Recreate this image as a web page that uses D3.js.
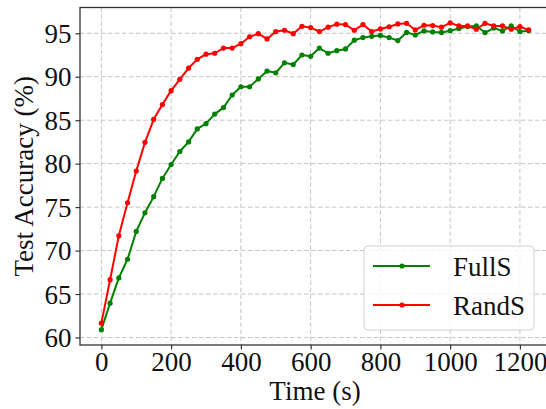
<!DOCTYPE html>
<html>
<head>
<meta charset="utf-8">
<script src="https://cdn.jsdelivr.net/npm/d3@7"></script>
<style>
  html, body { margin: 0; padding: 0; background: #fff; }
  svg { display: block; }
  text { font-family: "Liberation Serif", "Times New Roman", serif; fill: #111; }
</style>
</head>
<body>
<svg id="chart" width="546" height="409"></svg>
<script>
// Training time (s) for each evaluation point
const timeSec = d3.range(50).map(i => i * 25);

// Test accuracy (%) of each sampling strategy
const fullS = [60.9, 63.95, 66.85, 69.0, 72.2, 74.35, 76.2, 78.3, 79.9, 81.4,
  82.5, 84.0, 84.6, 85.7, 86.45, 87.9, 88.85, 88.85, 89.75, 90.65,
  90.45, 91.6, 91.4, 92.5, 92.35, 93.3, 92.7, 93.0, 93.2, 94.2,
  94.5, 94.65, 94.75, 94.5, 94.16, 95.1, 94.8, 95.27, 95.15, 95.1,
  95.3, 95.54, 95.77, 95.84, 95.08, 95.6, 95.27, 95.84, 95.19, 95.3];
const randS = [61.65, 66.65, 71.7, 75.5, 79.15, 82.45, 85.1, 86.8, 88.4, 89.7,
  91.0, 92.0, 92.6, 92.7, 93.3, 93.3, 93.8, 94.6, 94.95, 94.35,
  95.2, 95.35, 94.95, 95.8, 95.65, 95.2, 95.7, 96.05, 96.0, 95.35,
  96.0, 95.2, 95.5, 95.75, 96.07, 96.15, 95.38, 95.92, 95.88, 95.7,
  96.2, 95.84, 95.84, 95.46, 96.15, 95.84, 95.84, 95.46, 95.77, 95.38];

const seriesNames = ["FullS", "RandS"];
const seriesColors = ["#008000", "#ff0000"];
const xTicks = [0, 200, 400, 600, 800, 1000, 1200];
const yTicks = [60, 65, 70, 75, 80, 85, 90, 95];

const series = [
  { name: seriesNames[0], color: seriesColors[0], values: fullS },
  { name: seriesNames[1], color: seriesColors[1], values: randS }
];

const svg = d3.select("#chart");
const plot = { left: 80, top: 7.5, right: 550, bottom: 345 };

// Axis limits padded by 5% of the data span on each side
function padded(lo, hi) { const p = (hi - lo) * 0.05; return [lo - p, hi + p]; }
const xExt = d3.extent(timeSec);
const allY = fullS.concat(randS);
const yExt = d3.extent(allY);

const x = d3.scaleLinear().domain(padded(xExt[0], xExt[1])).range([plot.left, plot.right]);
const y = d3.scaleLinear().domain(padded(yExt[0], yExt[1])).range([plot.bottom, plot.top]);

svg.append("defs").append("clipPath").attr("id", "plot-clip")
  .append("rect")
  .attr("x", plot.left).attr("y", plot.top)
  .attr("width", plot.right - plot.left).attr("height", plot.bottom - plot.top);

// Dashed grid
const grid = svg.append("g").attr("stroke", "#c4c4c4").attr("stroke-width", 1)
  .attr("stroke-dasharray", "4.5,2.5");
grid.selectAll("line.gx").data(xTicks).join("line")
  .attr("x1", d => x(d)).attr("x2", d => x(d))
  .attr("y1", plot.top).attr("y2", plot.bottom);
grid.selectAll("line.gy").data(yTicks).join("line")
  .attr("x1", plot.left).attr("x2", plot.right)
  .attr("y1", d => y(d)).attr("y2", d => y(d));

// Series lines with circle markers
const line = d3.line().x((d, i) => x(timeSec[i])).y(d => y(d));
const marks = svg.append("g").attr("clip-path", "url(#plot-clip)");
series.forEach(s => {
  const g = marks.append("g");
  g.append("path").datum(s.values)
    .attr("d", line).attr("fill", "none")
    .attr("stroke", s.color).attr("stroke-width", 2).attr("stroke-linejoin", "round");
  g.selectAll("circle").data(s.values).join("circle")
    .attr("cx", (d, i) => x(timeSec[i])).attr("cy", d => y(d))
    .attr("r", 2.6).attr("fill", s.color);
});

// Axes
const xAxis = d3.axisBottom(x).tickValues(xTicks).tickSize(4.5).tickPadding(4).tickFormat(d3.format("d"));
const yAxis = d3.axisLeft(y).tickValues(yTicks).tickSize(4.5).tickPadding(4).tickFormat(d3.format("d"));

const gx = svg.append("g").attr("transform", `translate(0,${plot.bottom})`).call(xAxis);
const gy = svg.append("g").attr("transform", `translate(${plot.left},0)`).call(yAxis);
[gx, gy].forEach(g => {
  g.select(".domain").remove();
  g.selectAll(".tick line").attr("stroke", "#333").attr("stroke-width", 1.2);
  g.selectAll(".tick text").attr("font-size", 27).attr("fill", "#111")
    .style("font-family", "'Liberation Serif', serif");
});
gx.selectAll(".tick text").attr("dy", "0.64em");
gy.selectAll(".tick text").attr("dy", "0.34em");

// Frame (right edge lies beyond the canvas)
svg.append("rect")
  .attr("x", plot.left).attr("y", plot.top)
  .attr("width", plot.right - plot.left).attr("height", plot.bottom - plot.top)
  .attr("fill", "none").attr("stroke", "#333").attr("stroke-width", 1.3);

// Axis titles
svg.append("text")
  .attr("x", (plot.left + plot.right) / 2).attr("y", 400)
  .attr("text-anchor", "middle").attr("font-size", 27)
  .text("Time (s)");
svg.append("text")
  .attr("transform", `translate(33,${(plot.top + plot.bottom) / 2}) rotate(-90)`)
  .attr("text-anchor", "middle").attr("font-size", 27)
  .text("Test Accuracy (%)");

// Legend
const legend = svg.append("g").attr("transform", "translate(364,246)");
legend.append("rect")
  .attr("width", 170).attr("height", 84).attr("rx", 4).attr("ry", 4)
  .attr("fill", "#fff").attr("fill-opacity", 0.8)
  .attr("stroke", "#d0d0d0").attr("stroke-width", 1);
series.forEach((s, i) => {
  const row = legend.append("g").attr("transform", `translate(0,${20 + i * 39})`);
  row.append("line").attr("x1", 9).attr("x2", 66).attr("y1", 0).attr("y2", 0)
    .attr("stroke", s.color).attr("stroke-width", 2);
  row.append("circle").attr("cx", 38).attr("cy", 0).attr("r", 2.6).attr("fill", s.color);
  row.append("text").attr("x", 89).attr("y", 9.5).attr("font-size", 27).text(s.name);
});
</script>
</body>
</html>
